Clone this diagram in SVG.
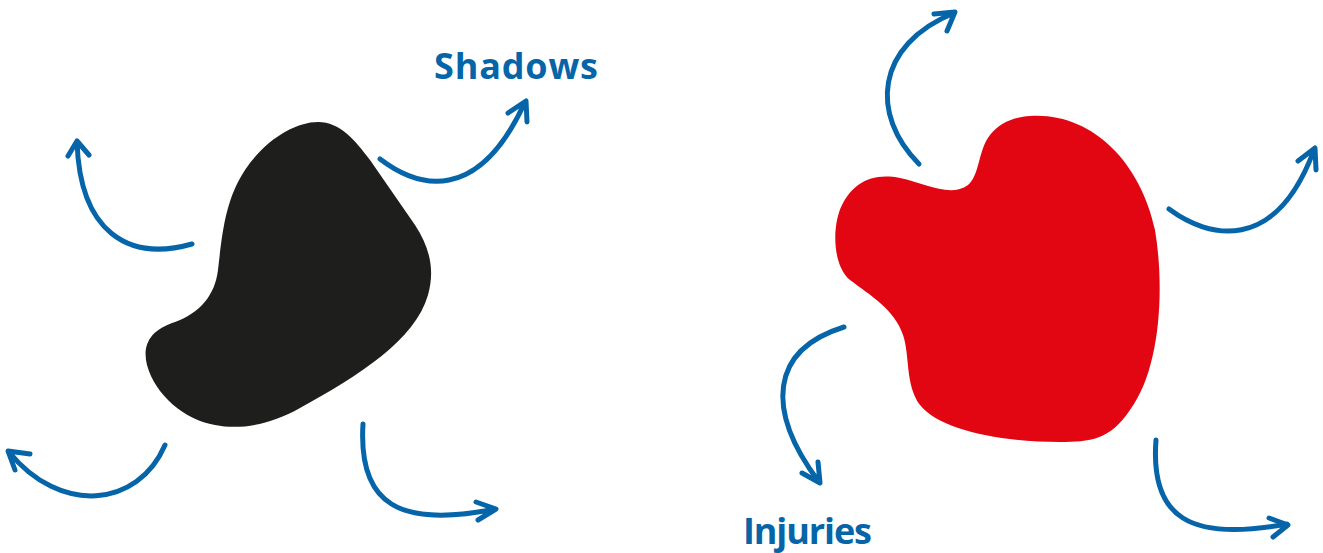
<svg xmlns="http://www.w3.org/2000/svg" width="1323" height="553" viewBox="0 0 1323 553">
<style>
.a{fill:none;stroke:#0565a8;stroke-width:5;stroke-linecap:round;stroke-linejoin:round}
.t{font-family:"Open Sans","Noto Sans",sans-serif;font-weight:700;font-size:36px;fill:#0565a8}
</style>
<rect width="1323" height="553" fill="#fff"/>
<g id="blob-black">
<path fill="#1e1e1c" d="M318,122 C340,122 355,140 370,160 L415,225 C430,248 435,270 428,295 C415,340 360,375 300,408 C270,425 240,430 215,425 C185,420 155,395 147,365 C142,345 150,330 175,322 C200,313 215,295 218,270 C222,235 225,200 245,170 C265,140 295,122 318,122 Z"/>
</g>
<g id="blob-red">
<path fill="#e20613" d="M1030,116 C1090,112 1140,160 1155,230 C1165,290 1160,370 1130,410 C1110,440 1090,442 1060,442 C1000,442 940,430 920,405 C905,385 910,355 903,335 C895,310 870,295 850,280 C832,265 832,225 842,205 C852,185 870,172 900,178 C925,183 950,198 968,185 C980,175 978,150 990,135 C1000,122 1015,117 1030,116 Z"/>
</g>
<g id="label-shadows"><text class="t" x="434" y="79" textLength="164" lengthAdjust="spacing">Shadows</text></g>
<g id="label-injuries"><text class="t" x="743" y="544" textLength="129" lengthAdjust="spacing">Injuries</text></g>
<g id="connectors">
<path class="a" d="M192,244 C128,262 80,232 77,142 M68,156 L77,141 L89,155"/>
<path class="a" d="M380,159 C418,188 478,205 525,102 M508,113 L526,101 L527,122"/>
<path class="a" d="M165,445 C138,508 60,515 9,452 M30,454 L8,451 L15,470"/>
<path class="a" d="M363,424 C358,505 400,528 495,509 M476,502 L496,509 L478,520"/>
<path class="a" d="M919,164 C870,115 875,45 954,13 M934,14 L955,12 L947,31"/>
<path class="a" d="M1169,209 C1208,238 1275,255 1314,150 M1298,161 L1315,148 L1316,170"/>
<path class="a" d="M844,327 C770,350 765,410 819,482 M802,473 L820,483 L818,462"/>
<path class="a" d="M1156,440 C1150,518 1190,542 1287,524 M1269,518 L1288,525 L1273,537"/>
</g>
</svg>
